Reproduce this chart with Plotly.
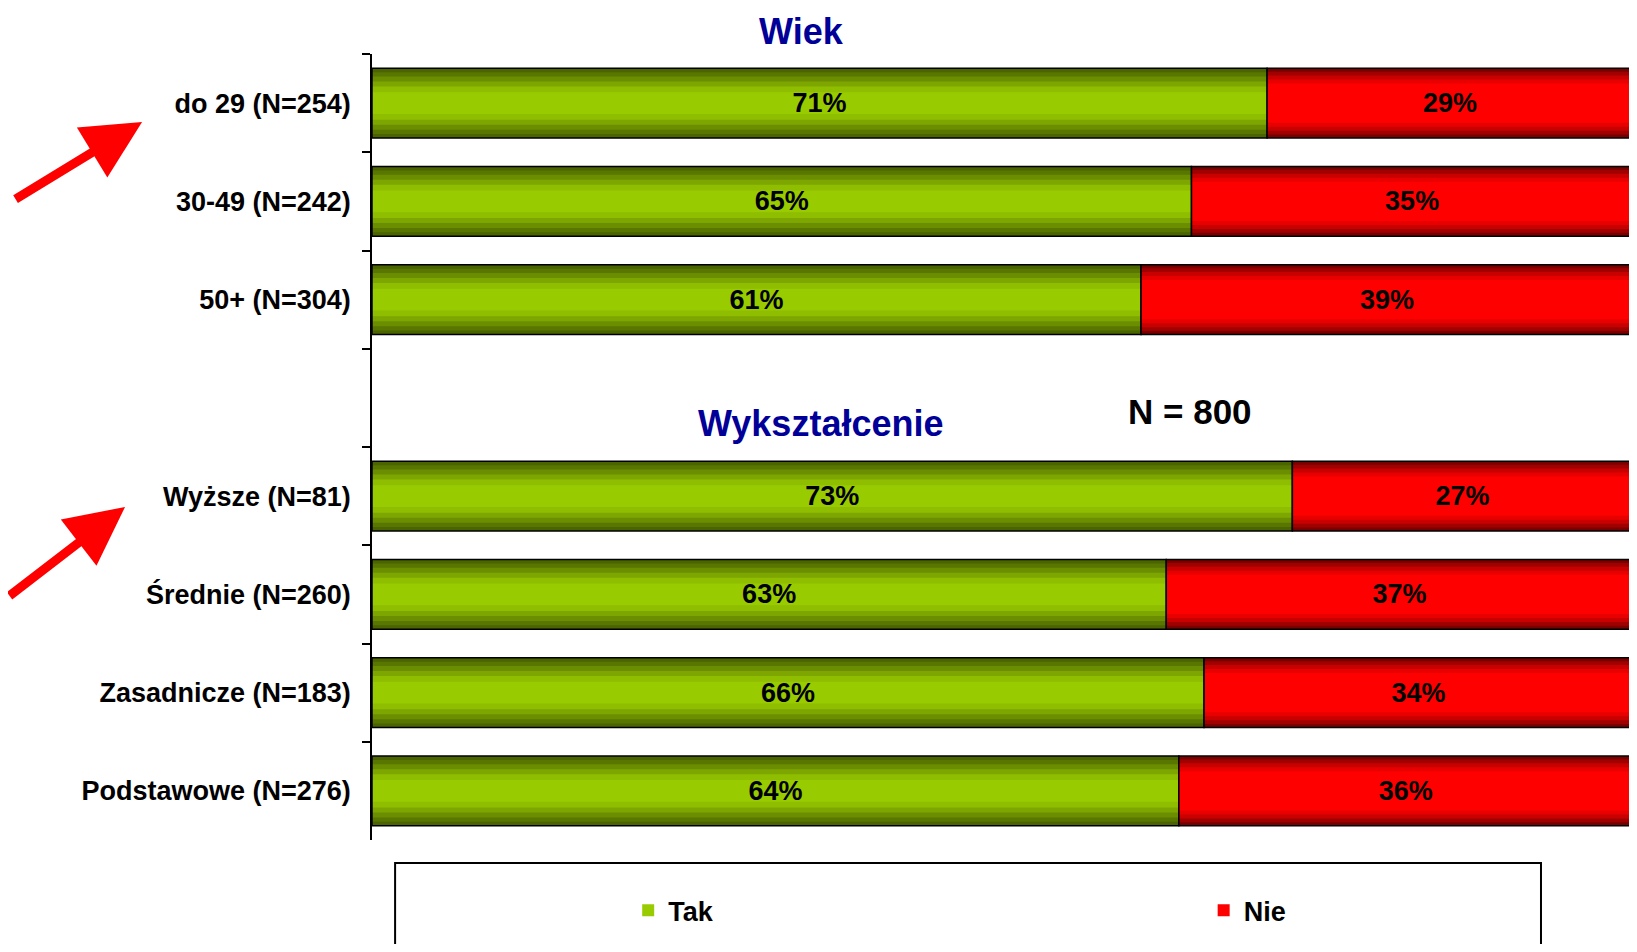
import plotly.graph_objects as go

# kategorie (pusta pozycja oddziela grupy Wiek / Wykształcenie)
categories = ['do 29 (N=254)', '30-49 (N=242)', '50+ (N=304)', ' ',
              'Wyższe (N=81)', 'Średnie (N=260)', 'Zasadnicze (N=183)', 'Podstawowe (N=276)']
tak = [71, 65, 61, None, 73, 63, 66, 64]
nie = [29, 35, 39, None, 27, 37, 34, 36]
series_names = ['Tak', 'Nie']

# "gradient" paska: kilka nałożonych warstw, od krawędzi do środka
green_widths = [0.71, 0.63, 0.54, 0.44, 0.34, 0.22]
green_shades = ['#4a6400', '#587600', '#6a8e00', '#7ea600', '#8fbd00', '#99cc00']
red_widths = [0.71, 0.64, 0.56, 0.48, 0.40]
red_shades = ['#7a0000', '#a00000', '#c80000', '#e80000', '#ff0000']

FONT = 'Liberation Sans, Arial, sans-serif'

fig = go.Figure()

tak_base = [0 if v is not None else None for v in tak]
for name, vals, base, widths, shades, leg in [
        (series_names[0], tak, tak_base, green_widths, green_shades, 'legend'),
        (series_names[1], nie, tak, red_widths, red_shades, 'legend2')]:
    for i, (w, c) in enumerate(zip(widths, shades)):
        fig.add_trace(go.Bar(
            y=categories, x=vals, base=base, orientation='h', width=w,
            marker=dict(color=c, line=dict(width=0)),
            name=name, showlegend=(i == len(shades) - 1), legend=leg,
            hoverinfo='skip',
        ))
    # obrys + etykiety na wierzchu
    fig.add_trace(go.Bar(
        y=categories, x=vals, base=base, orientation='h', width=widths[0],
        marker=dict(color='rgba(0,0,0,0)', line=dict(color='black', width=1.5)),
        text=[f'{v}%' if v is not None else '' for v in vals],
        textposition='inside', insidetextanchor='middle', textangle=0,
        textfont=dict(family=FONT, size=27, color='black', weight='bold'),
        name=name, showlegend=False,
    ))

legend_style = dict(
    orientation='h', y=-0.09, xanchor='left', yanchor='middle',
    font=dict(family=FONT, size=27, color='black', weight='bold'),
    bgcolor='rgba(0,0,0,0)', borderwidth=0,
)

# strona ma 8 px marginesu body, więc figura jest o tyle mniejsza
fig.update_layout(
    width=1629, height=936,
    barmode='overlay',
    plot_bgcolor='white', paper_bgcolor='white',
    margin=dict(l=364, r=3, t=46, b=104),
    font=dict(family=FONT, color='black'),
    xaxis=dict(visible=False, range=[0, 100.1], fixedrange=True),
    yaxis=dict(
        categoryorder='array', categoryarray=categories, autorange='reversed',
        showline=True, linecolor='black', linewidth=1.5,
        ticks='outside', tickson='boundaries', ticklen=8, tickwidth=1.5, tickcolor='black',
        tickfont=dict(family=FONT, size=27, color='black', weight='bold'),
        ticklabelstandoff=14, showgrid=False, zeroline=False, automargin=False,
    ),
    legend=dict(x=0.203, **legend_style),
    legend2=dict(x=0.659, **legend_style),
    showlegend=True,
)

# ramka legendy
fig.add_shape(type='rect', xref='paper', yref='paper',
              x0=0.0183, x1=0.9263, y0=-0.25, y1=-0.0293,
              line=dict(color='black', width=2), fillcolor='rgba(0,0,0,0)')

# tytuły grup i liczebność
fig.add_annotation(text='Wiek', xref='paper', yref='paper', x=0.3407, y=1.0575,
                   xanchor='center', yanchor='top', showarrow=False,
                   font=dict(family=FONT, size=36, color='#000099', weight='bold'))
fig.add_annotation(text='Wykształcenie', xref='paper', yref='paper', x=0.3550, y=0.5293,
                   xanchor='center', yanchor='middle', showarrow=False,
                   font=dict(family=FONT, size=36, color='#000099', weight='bold'))
fig.add_annotation(text='N = 800', xref='paper', yref='paper', x=0.648, y=0.5458,
                   xanchor='center', yanchor='middle', showarrow=False,
                   font=dict(family=FONT, size=35, color='black', weight='bold'))

# czerwone strzałki
for tip_x, tip_y, ax, ay in [(-0.1822, 0.9135, -128, 78), (-0.1957, 0.4237, -135, 90)]:
    fig.add_annotation(text='', xref='paper', yref='paper', x=tip_x, y=tip_y,
                       ax=ax, ay=ay, showarrow=True, arrowhead=2, arrowsize=1.3,
                       arrowwidth=9, arrowcolor='#ff0000')

fig.write_html('out.html')
